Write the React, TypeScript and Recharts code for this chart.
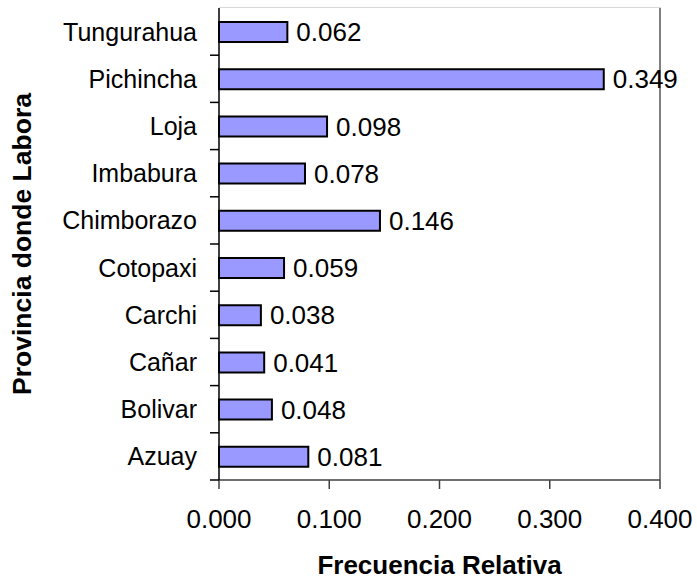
import React from "react";
import { BarChart, Bar, XAxis, YAxis, LabelList, ReferenceLine } from "recharts";

const provincias = ["Tungurahua", "Pichincha", "Loja", "Imbabura", "Chimborazo", "Cotopaxi", "Carchi", "Cañar", "Bolivar", "Azuay"];
const frecuencias = [0.062, 0.349, 0.098, 0.078, 0.146, 0.059, 0.038, 0.041, 0.048, 0.081];
const xTicks = [0, 0.1, 0.2, 0.3, 0.4];

const data = provincias.map((p, i) => ({ provincia: p, frecuencia: frecuencias[i] }));

const FONT = "'Liberation Sans', Arial, sans-serif";
const BAND = 47.2;

const CatTick = (props: any) => {
  const { x, y, payload } = props;
  return (
    <g>
      <line x1={x - 1} x2={x + 8} y1={y + BAND / 2} y2={y + BAND / 2} stroke="#000" strokeWidth={1.5} />
      <text x={x - 14} y={y} dy="0.36em" textAnchor="end" fontFamily={FONT} fontSize={25} fill="#000">
        {payload.value}
      </text>
    </g>
  );
};

const NumTick = (props: any) => {
  const { x, y, payload } = props;
  return (
    <text x={x} y={y + 37} textAnchor="middle" fontFamily={FONT} fontSize={26} fill="#000">
      {Number(payload.value).toFixed(3)}
    </text>
  );
};

export default function App() {
  return (
    <div style={{ position: "absolute", left: 0, top: 0, width: 697, height: 582, background: "#fff" }}>
      <BarChart
        width={697}
        height={582}
        data={data}
        layout="vertical"
        margin={{ top: 8, right: 37, bottom: 0, left: 0 }}
        barCategoryGap={0}
      >
        <XAxis
          type="number"
          dataKey="frecuencia"
          domain={[0, 0.4]}
          ticks={xTicks}
          height={102}
          axisLine={{ stroke: "#404040", strokeWidth: 1.5 }}
          tickLine={{ stroke: "#404040", strokeWidth: 1.5 }}
          tickSize={9}
          tick={<NumTick />}
          label={{ value: "Frecuencia Relativa", position: "insideBottom", offset: 8, fontFamily: FONT, fontSize: 26, fontWeight: "bold", fill: "#000" }}
        />
        <YAxis
          type="category"
          dataKey="provincia"
          width={219}
          axisLine={{ stroke: "#000", strokeWidth: 1.5 }}
          tickLine={false}
          tick={<CatTick />}
          interval={0}
          label={{ value: "Provincia donde Labora", angle: -90, position: "insideLeft", offset: 22, fontFamily: FONT, fontSize: 26.5, fontWeight: "bold", fill: "#000", style: { textAnchor: "middle" } }}
        />
        <ReferenceLine x={0.4} stroke="#808080" strokeWidth={2} />
        <Bar dataKey="frecuencia" fill="#9999FF" stroke="#000" strokeWidth={2} barSize={20} isAnimationActive={false}>
          <LabelList dataKey="frecuencia" position="right" offset={9} formatter={(v: any) => Number(v).toFixed(3)} style={{ fontFamily: FONT, fontSize: 26, fill: "#000" }} />
        </Bar>
      </BarChart>
      <div style={{ position: "absolute", left: 219, top: 7, width: 442, height: 1, background: "#d8d8d8" }} />
    </div>
  );
}
